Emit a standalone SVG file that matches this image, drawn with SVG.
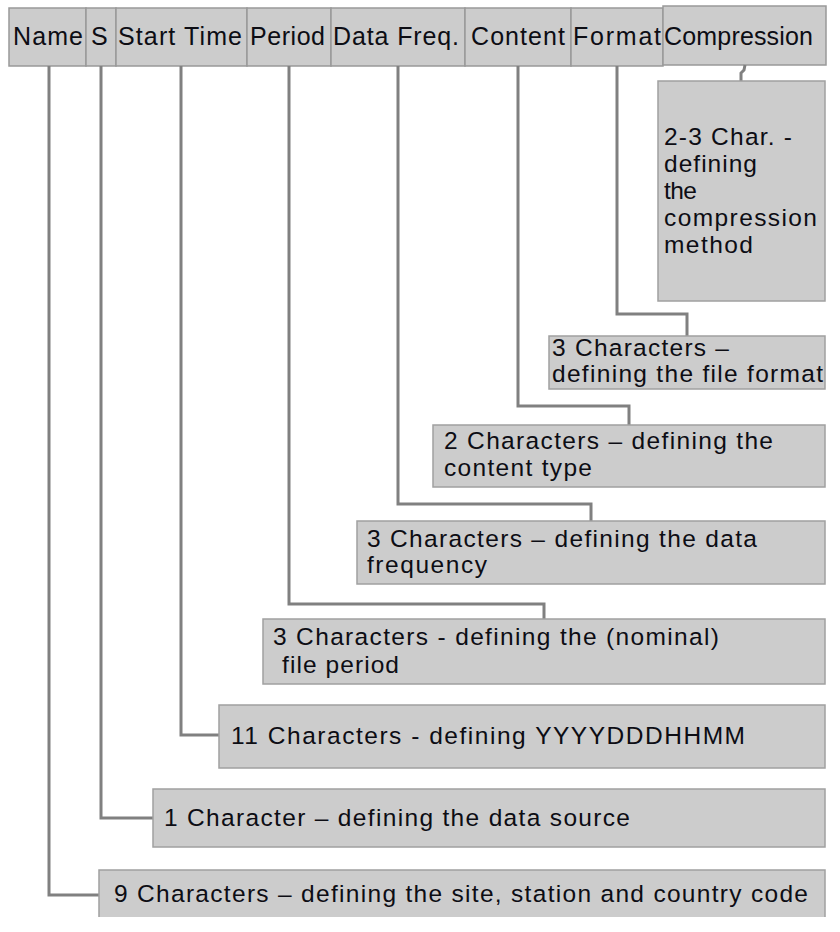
<svg xmlns="http://www.w3.org/2000/svg" width="840" height="932" viewBox="0 0 840 932">
<style>
.cell{fill:#cccccc;stroke:#999999;stroke-width:1.5}
.box{fill:#cccccc;stroke:#a0a0a0;stroke-width:1.5}
.conn{fill:none;stroke:#808080;stroke-width:3}
.h{font-family:"Liberation Sans",Arial,sans-serif;font-size:25px;fill:#0d0d14}
.t{font-family:"Liberation Sans",Arial,sans-serif;font-size:24.5px;fill:#0d0d14}
</style>
<rect width="840" height="932" fill="#ffffff"/>
<g id="header">
  <g id="h-name"><rect class="cell" x="9" y="8" width="77" height="58"/><text class="h" x="13" y="45" textLength="70" lengthAdjust="spacing">Name</text></g>
  <g id="h-s"><rect class="cell" x="86" y="8" width="30" height="58"/><text class="h" x="91" y="45" textLength="17" lengthAdjust="spacing">S</text></g>
  <g id="h-start"><rect class="cell" x="116" y="8" width="131" height="58"/><text class="h" x="118" y="45" textLength="124" lengthAdjust="spacing">Start Time</text></g>
  <g id="h-period"><rect class="cell" x="247" y="8" width="84" height="58"/><text class="h" x="250" y="45" textLength="75" lengthAdjust="spacing">Period</text></g>
  <g id="h-freq"><rect class="cell" x="331" y="8" width="134" height="58"/><text class="h" x="333" y="45" textLength="126" lengthAdjust="spacing">Data Freq.</text></g>
  <g id="h-content"><rect class="cell" x="465" y="8" width="106" height="58"/><text class="h" x="471" y="45" textLength="94" lengthAdjust="spacing">Content</text></g>
  <g id="h-format"><rect class="cell" x="571" y="8" width="92" height="58"/><text class="h" x="573" y="45" textLength="88" lengthAdjust="spacing">Format</text></g>
  <g id="h-comp"><rect class="cell" x="663" y="6" width="163" height="59"/><text class="h" x="664" y="45" textLength="149" lengthAdjust="spacing">Compression</text></g>
</g>
<g id="connectors">
  <path class="conn" d="M49,66 V895 H99"/>
  <path class="conn" d="M101,66 V818 H153"/>
  <path class="conn" d="M181,66 V735 H219"/>
  <path class="conn" d="M289,66 V604 H544 V619"/>
  <path class="conn" d="M398,66 V504 H591 V521"/>
  <path class="conn" d="M518,66 V406 H629 V425"/>
  <path class="conn" d="M617,66 V314 H687 V336"/>
  <path class="conn" d="M745,65 L744,70 L741,73 V81"/>
</g>
<g id="n-comp"><rect class="box" x="658" y="81" width="167" height="220"/>
  <text class="t" x="664" y="145" textLength="128" lengthAdjust="spacing">2-3 Char. -</text>
  <text class="t" x="664" y="172" textLength="93" lengthAdjust="spacing">defining</text>
  <text class="t" x="664" y="199" textLength="33" lengthAdjust="spacing">the</text>
  <text class="t" x="664" y="226" textLength="153" lengthAdjust="spacing">compression</text>
  <text class="t" x="664" y="253" textLength="89" lengthAdjust="spacing">method</text>
</g>
<g id="n-format"><rect class="box" x="549" y="336" width="276" height="53"/>
  <text class="t" x="552" y="356" textLength="177" lengthAdjust="spacing">3 Characters –</text>
  <text class="t" x="552" y="382" textLength="271" lengthAdjust="spacing">defining the file format</text>
</g>
<g id="n-content"><rect class="box" x="433" y="425" width="392" height="62"/>
  <text class="t" x="444" y="449" textLength="329" lengthAdjust="spacing">2 Characters – defining the</text>
  <text class="t" x="444" y="476" textLength="148" lengthAdjust="spacing">content type</text>
</g>
<g id="n-freq"><rect class="box" x="357" y="521" width="468" height="63"/>
  <text class="t" x="367" y="547" textLength="390" lengthAdjust="spacing">3 Characters – defining the data</text>
  <text class="t" x="367" y="573" textLength="120" lengthAdjust="spacing">frequency</text>
</g>
<g id="n-period"><rect class="box" x="263" y="619" width="562" height="65"/>
  <text class="t" x="273" y="645" textLength="446" lengthAdjust="spacing">3 Characters - defining the (nominal)</text>
  <text class="t" x="282" y="673" textLength="117" lengthAdjust="spacing">file period</text>
</g>
<g id="n-start"><rect class="box" x="219" y="705" width="606" height="63"/>
  <text class="t" x="231" y="744" textLength="514" lengthAdjust="spacing">11 Characters - defining YYYYDDDHHMM</text>
</g>
<g id="n-s"><rect class="box" x="153" y="789" width="672" height="58"/>
  <text class="t" x="164" y="826" textLength="466" lengthAdjust="spacing">1 Character – defining the data source</text>
</g>
<g id="n-name"><rect x="99" y="870" width="726" height="47" fill="#cccccc"/>
  <path d="M99,917 V870 H825 V917" fill="none" stroke="#a0a0a0" stroke-width="1.5"/>
  <text class="t" x="114" y="902" textLength="694" lengthAdjust="spacing">9 Characters – defining the site, station and country code</text>
</g>
</svg>
